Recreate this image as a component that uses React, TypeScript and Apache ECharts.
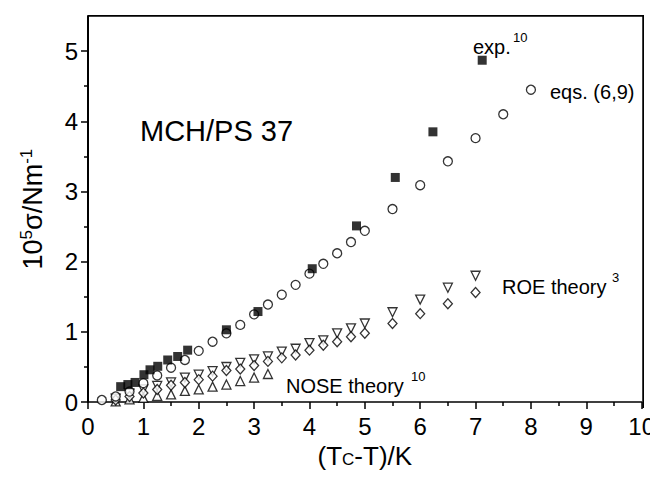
import React, { useEffect, useRef } from "react";
import * as echarts from "echarts";

// exp. (ref 10) – filled squares
const expX = [0.59, 0.72, 0.85, 1.01, 1.12, 1.26, 1.44, 1.62, 1.8, 2.5, 3.07, 4.05, 4.85, 5.55, 6.23, 7.12];
const expY = [0.22, 0.25, 0.28, 0.39, 0.46, 0.51, 0.6, 0.65, 0.74, 1.03, 1.29, 1.9, 2.51, 3.2, 3.85, 4.87];

// eqs. (6,9) – open circles
const eqsX = [0.25, 0.5, 0.75, 1.0, 1.25, 1.5, 1.75, 2.0, 2.25, 2.5, 2.75, 3.0, 3.25, 3.5, 3.75, 4.0, 4.25, 4.5, 4.75, 5.0, 5.5, 6.0, 6.5, 7.0, 7.5, 8.0];
const eqsY = [0.03, 0.08, 0.15, 0.27, 0.38, 0.49, 0.6, 0.73, 0.86, 0.98, 1.1, 1.25, 1.39, 1.53, 1.67, 1.83, 1.97, 2.12, 2.28, 2.44, 2.75, 3.09, 3.43, 3.76, 4.1, 4.45];

// ROE theory (ref 3) – open down triangles and open diamonds
const roeX = [0.5, 0.75, 1.0, 1.25, 1.5, 1.75, 2.0, 2.25, 2.5, 2.75, 3.0, 3.25, 3.5, 3.75, 4.0, 4.25, 4.5, 4.75, 5.0, 5.5, 6.0, 6.5, 7.0];
const roeTriY = [0.05, 0.12, 0.18, 0.23, 0.28, 0.35, 0.39, 0.44, 0.5, 0.56, 0.61, 0.65, 0.72, 0.76, 0.84, 0.88, 0.98, 1.05, 1.12, 1.28, 1.46, 1.63, 1.8];
const roeDiaY = [0.03, 0.08, 0.13, 0.18, 0.24, 0.28, 0.32, 0.37, 0.45, 0.47, 0.52, 0.58, 0.63, 0.67, 0.74, 0.81, 0.86, 0.93, 0.98, 1.12, 1.26, 1.4, 1.56];

// NOSE theory (ref 10) – open up triangles
const noseX = [0.5, 0.75, 1.0, 1.25, 1.5, 1.75, 2.0, 2.25, 2.5, 2.75, 3.0, 3.25];
const noseY = [0.01, 0.04, 0.06, 0.09, 0.11, 0.16, 0.18, 0.22, 0.25, 0.3, 0.35, 0.4];

const yMajorTicks = [0, 1, 2, 3, 4, 5];
const yMinorTicks = [0.5, 1.5, 2.5, 3.5, 4.5];

const FONT = "'Liberation Sans', Arial, Helvetica, sans-serif";
const W = 650;
const H = 466;
const G = { left: 80, right: 15, top: 8, bottom: 66 };

const zip = (xs: number[], ys: number[]) => xs.map((x, i) => [x, ys[i]]);

const openStyle = { color: "#ffffff", borderColor: "#000000", borderWidth: 1.3 };

export default function App() {
  const ref = useRef<HTMLDivElement>(null);
  useEffect(() => {
    if (!ref.current) return;
    const chart = echarts.init(ref.current, null, { renderer: "svg" });
    const txt = (x: number, y: number, text: string, size: number) => ({
      type: "text",
      x,
      y,
      style: { text, fontSize: size, fontFamily: FONT, fill: "#000", textVerticalAlign: "middle" },
    });
    const right = W - G.right;
    const top = G.top;
    const bottom = H - G.bottom;
    chart.setOption({
      animation: false,
      backgroundColor: "#ffffff",
      textStyle: { fontFamily: FONT },
      grid: G,
      xAxis: {
        type: "value",
        min: 0,
        max: 10,
        interval: 1,
        name: "{n|(T}{sub|C}{n|-T)/K}",
        nameLocation: "middle",
        nameGap: 38,
        nameTextStyle: {
          fontSize: 26,
          color: "#000",
          fontFamily: FONT,
          rich: {
            n: { fontSize: 26, fontFamily: FONT, color: "#000", padding: [0, 0, 6, 0] },
            sub: { fontSize: 17, fontFamily: FONT, color: "#000" },
          },
        },
        axisLine: { show: true, onZero: false, lineStyle: { color: "#000", width: 1.5 } },
        axisTick: { show: true, inside: false, length: 7, lineStyle: { color: "#000", width: 1.5 } },
        minorTick: { show: true, splitNumber: 2, length: 4, lineStyle: { color: "#000", width: 1.5 } },
        axisLabel: { fontSize: 24, color: "#000", margin: 12, fontFamily: FONT },
        splitLine: { show: false },
        minorSplitLine: { show: false },
      },
      yAxis: [
        {
          type: "value",
          min: 0,
          max: 5.5,
          position: "left",
          name: "{n|10}{sup|5}{n|σ/Nm}{sup|-1}",
          nameLocation: "middle",
          nameGap: 40,
          nameRotate: 90,
          nameTextStyle: {
            fontSize: 27,
            color: "#000",
            fontFamily: FONT,
            rich: {
              n: { fontSize: 27, fontFamily: FONT, color: "#000" },
              sup: { fontSize: 17, fontFamily: FONT, color: "#000", padding: [0, 0, 13, 0] },
            },
          },
          axisLine: { show: true, onZero: false, lineStyle: { color: "#000", width: 2 } },
          axisTick: { show: true, inside: false, length: 7, customValues: yMajorTicks, lineStyle: { color: "#000", width: 1.5 } },
          axisLabel: { fontSize: 24, color: "#000", margin: 10, fontFamily: FONT, customValues: yMajorTicks },
          splitLine: { show: false },
        },
        {
          type: "value",
          min: 0,
          max: 5.5,
          position: "left",
          axisLine: { show: false, onZero: false },
          axisTick: { show: true, inside: false, length: 4, customValues: yMinorTicks, lineStyle: { color: "#000", width: 1.5 } },
          axisLabel: { show: false },
          splitLine: { show: false },
        },
      ],
      series: [
        {
          type: "scatter",
          name: "exp. 10",
          data: zip(expX, expY),
          symbol: "rect",
          symbolSize: 9,
          itemStyle: { color: "#000" },
          z: 5,
        },
        {
          type: "scatter",
          name: "eqs. (6,9)",
          data: zip(eqsX, eqsY),
          symbol: "circle",
          symbolSize: 9,
          itemStyle: openStyle,
          z: 4,
        },
        {
          type: "scatter",
          name: "ROE theory 3",
          data: zip(roeX, roeTriY),
          symbol: "triangle",
          symbolRotate: 180,
          symbolSize: 9,
          itemStyle: openStyle,
          z: 3,
        },
        {
          type: "scatter",
          name: "ROE theory 3 (diamond)",
          data: zip(roeX, roeDiaY),
          symbol: "diamond",
          symbolSize: [9, 10],
          itemStyle: openStyle,
          z: 3,
        },
        {
          type: "scatter",
          name: "NOSE theory 10",
          data: zip(noseX, noseY),
          symbol: "triangle",
          symbolSize: 9,
          itemStyle: openStyle,
          z: 2,
        },
      ],
      graphic: [
        {
          type: "polyline",
          shape: { points: [[G.left, top], [right, top], [right, bottom]] },
          style: { stroke: "#000000", lineWidth: 1.5, fill: "none" },
          z: 10,
        },
        txt(132, 123, "MCH/PS 37", 29),
        txt(465, 39, "exp.", 20),
        txt(505, 29, "10", 13),
        txt(542, 84, "eqs. (6,9)", 20),
        txt(494, 279, "ROE theory", 20),
        txt(604, 269, "3", 13),
        txt(278, 378, "NOSE theory", 20),
        txt(403, 368, "10", 13),
      ],
    });
    return () => chart.dispose();
  }, []);
  return (
    <div style={{ position: "relative", width: W, height: H }}>
      <div ref={ref} style={{ width: W, height: H }} />
      <div
        style={{
          position: "absolute",
          left: G.left,
          top: G.top - 1,
          width: W - G.left - G.right + 1,
          height: H - G.top - G.bottom + 1,
          borderTop: "1.5px solid #000",
          borderRight: "1.5px solid #000",
          boxSizing: "border-box",
          pointerEvents: "none",
        }}
      />
    </div>
  );
}
